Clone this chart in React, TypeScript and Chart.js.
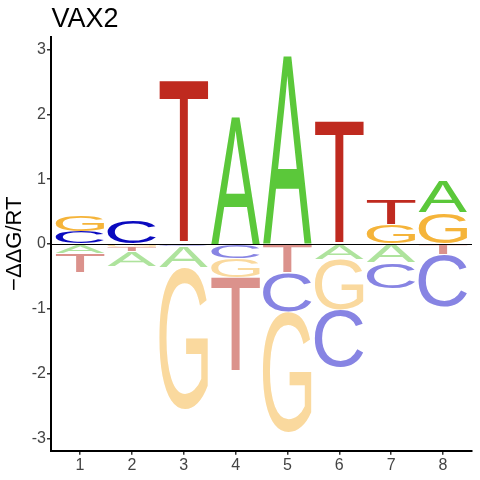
import React, { useEffect, useRef } from "react";
import { Chart, registerables } from "chart.js";

Chart.register(...registerables);

const chartTitle = "VAX2";
const yAxisTitle = "\u2212\u0394\u0394G/RT";
const positions = [1, 2, 3, 4, 5, 6, 7, 8];
const xTicks = [1, 2, 3, 4, 5, 6, 7, 8];
const yTicks = [-3, -2, -1, 0, 1, 2, 3];

// letters stacked above zero (from zero upward)
const upLetters = [["C", "G"], ["C"], ["T"], ["A"], ["A"], ["T"], ["G", "T"], ["G", "A"]];
const upHeights = [[0.19, 0.26], [0.35], [2.52], [1.98], [2.91], [1.9], [0.3, 0.39], [0.48, 0.49]];
// letters stacked below zero (from zero downward)
const downLetters = [
  ["A", "T"],
  ["G", "T", "A"],
  ["C", "A", "G"],
  ["C", "G", "T"],
  ["T", "C", "G"],
  ["A", "G", "C"],
  ["A", "C"],
  ["T", "C"],
];
const downHeights = [
  [0.14, 0.3],
  [0.05, 0.07, 0.23],
  [0.04, 0.32, 2.19],
  [0.22, 0.3, 1.46],
  [0.45, 0.6, 1.86],
  [0.24, 0.78, 0.88],
  [0.29, 0.4],
  [0.17, 0.81],
];

const upColors: Record<string, string> = { A: "#5BC83A", C: "#0A0ABF", G: "#F5B43A", T: "#BF2A1F" };
const downColors: Record<string, string> = { A: "#AEE39D", C: "#8784E3", G: "#FAD99E", T: "#DB928C" };

const LETTER_WIDTH = 0.94;
const GLYPH_FONT = "400 100px 'Liberation Sans', Arial, sans-serif";

const logoPlugin = {
  id: "logoPlugin",
  afterDatasetsDraw(chart: any) {
    const { ctx, chartArea } = chart;
    const xs = chart.scales.x;
    const ys = chart.scales.y;
    ctx.save();
    ctx.beginPath();
    ctx.rect(chartArea.left, chartArea.top, chartArea.right - chartArea.left, chartArea.bottom - chartArea.top);
    ctx.clip();

    const drawLetter = (letter: string, color: string, pos: number, v0: number, v1: number) => {
      const left = xs.getPixelForValue(pos - LETTER_WIDTH / 2);
      const right = xs.getPixelForValue(pos + LETTER_WIDTH / 2);
      const top = ys.getPixelForValue(Math.max(v0, v1)) + 0.5;
      const bottom = ys.getPixelForValue(Math.min(v0, v1)) - 0.5;
      if (bottom - top <= 0.2) return;
      ctx.font = GLYPH_FONT;
      const m = ctx.measureText(letter);
      const gw = m.actualBoundingBoxLeft + m.actualBoundingBoxRight;
      const gh = m.actualBoundingBoxAscent + m.actualBoundingBoxDescent;
      ctx.save();
      ctx.translate(left, top);
      ctx.scale((right - left) / gw, (bottom - top) / gh);
      ctx.fillStyle = color;
      ctx.textAlign = "left";
      ctx.textBaseline = "alphabetic";
      ctx.fillText(letter, m.actualBoundingBoxLeft, m.actualBoundingBoxAscent);
      ctx.restore();
    };

    positions.forEach((pos, i) => {
      let acc = 0;
      upLetters[i].forEach((l, j) => {
        const h = upHeights[i][j];
        drawLetter(l, upColors[l], pos, acc, acc + h);
        acc += h;
      });
      acc = 0;
      downLetters[i].forEach((l, j) => {
        const h = downHeights[i][j];
        drawLetter(l, downColors[l], pos, -acc, -(acc + h));
        acc += h;
      });
    });

    const y0 = Math.round(ys.getPixelForValue(0)) + 0.5;
    ctx.strokeStyle = "#000000";
    ctx.lineWidth = 1.2;
    ctx.beginPath();
    ctx.moveTo(chartArea.left, y0);
    ctx.lineTo(chartArea.right, y0);
    ctx.stroke();
    ctx.restore();
  },
  afterDraw(chart: any) {
    const { ctx, chartArea } = chart;
    ctx.save();
    ctx.font = "27px 'Liberation Sans', Arial, sans-serif";
    ctx.fillStyle = "#000000";
    ctx.textAlign = "left";
    ctx.textBaseline = "alphabetic";
    ctx.fillText(chartTitle, chartArea.left + 0.5, 27);
    ctx.restore();
  },
};

export default function App() {
  const canvasRef = useRef<HTMLCanvasElement | null>(null);

  useEffect(() => {
    document.body.style.margin = "0";
    const canvas = canvasRef.current;
    if (!canvas) return;
    const chart = new Chart(canvas, {
      type: "scatter",
      data: {
        datasets: [
          {
            data: positions.map((p) => ({ x: p, y: 0 })),
            pointRadius: 0,
            showLine: false,
          },
        ],
      },
      plugins: [logoPlugin],
      options: {
        animation: false,
        responsive: false,
        devicePixelRatio: 1,
        layout: { padding: { top: 36.7, right: 8, left: 0, bottom: 0 } },
        plugins: {
          legend: { display: false },
          tooltip: { enabled: false },
          title: { display: false },
        },
        events: [],
        scales: {
          x: {
            type: "linear",
            min: 0.44,
            max: 8.56,
            afterBuildTicks: (axis: any) => {
              axis.ticks = xTicks.map((v) => ({ value: v }));
            },
            afterFit: (axis: any) => {
              axis.height = 29.3;
            },
            grid: { display: true, drawOnChartArea: false, drawTicks: true, tickLength: 4, color: "#333333", lineWidth: 1.5 },
            border: { display: true, color: "#000000", width: 2 },
            ticks: {
              color: "#444444",
              font: { family: "'Liberation Sans', Arial, sans-serif", size: 16 },
              padding: 1,
              maxRotation: 0,
              autoSkip: false,
              callback: (v: any) => String(v),
            },
          },
          y: {
            type: "linear",
            min: -3.19,
            max: 3.2,
            afterBuildTicks: (axis: any) => {
              axis.ticks = yTicks.map((v) => ({ value: v }));
            },
            afterFit: (axis: any) => {
              axis.width = 51;
            },
            grid: { display: true, drawOnChartArea: false, drawTicks: true, tickLength: 4, color: "#333333", lineWidth: 1.5 },
            border: { display: true, color: "#000000", width: 2 },
            title: {
              display: true,
              text: yAxisTitle,
              color: "#000000",
              font: { family: "'Liberation Sans', Arial, sans-serif", size: 22 },
              padding: { top: 2, bottom: 0 },
            },
            ticks: {
              color: "#444444",
              font: { family: "'Liberation Sans', Arial, sans-serif", size: 16 },
              padding: 1,
              autoSkip: false,
              callback: (v: any) => String(v),
            },
          },
        },
      },
    } as any);
    return () => chart.destroy();
  }, []);

  return (
    <div style={{ width: 480, height: 480 }}>
      <canvas ref={canvasRef} width={480} height={480} style={{ display: "block", width: 480, height: 480 }} />
    </div>
  );
}
